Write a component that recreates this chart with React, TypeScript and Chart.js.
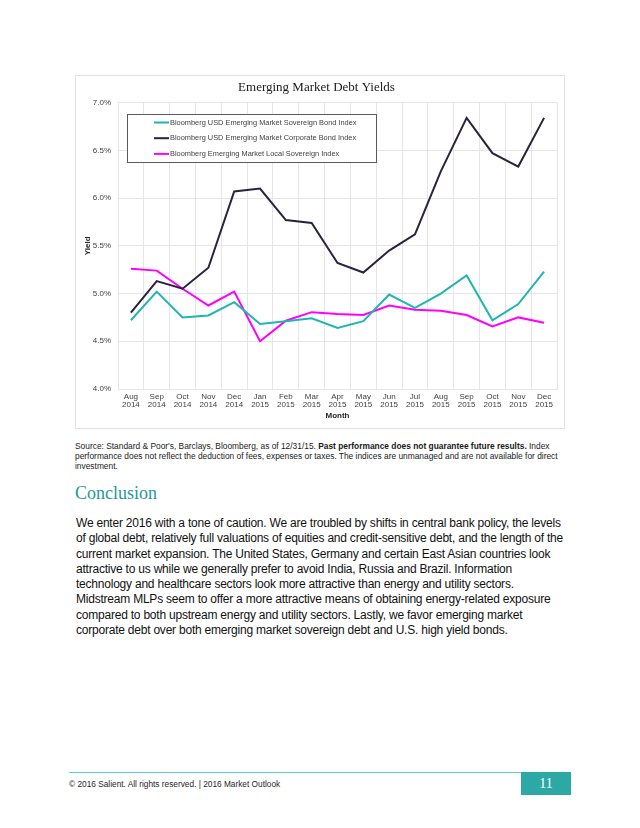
import React, { useEffect, useRef } from "react";
import { Chart, registerables } from "chart.js";

Chart.register(...registerables);

const months = ["Aug", "Sep", "Oct", "Nov", "Dec", "Jan", "Feb", "Mar", "Apr", "May", "Jun", "Jul", "Aug", "Sep", "Oct", "Nov", "Dec"];
const years = ["2014", "2014", "2014", "2014", "2014", "2015", "2015", "2015", "2015", "2015", "2015", "2015", "2015", "2015", "2015", "2015", "2015"];

const sovereign = [4.72, 5.02, 4.75, 4.77, 4.91, 4.68, 4.71, 4.74, 4.64, 4.71, 4.99, 4.85, 5.0, 5.19, 4.72, 4.89, 5.23];
const corporate = [4.8, 5.13, 5.05, 5.27, 6.07, 6.1, 5.77, 5.74, 5.32, 5.22, 5.45, 5.62, 6.28, 6.84, 6.47, 6.33, 6.84];
const local = [5.26, 5.24, 5.05, 4.875, 5.02, 4.5, 4.715, 4.805, 4.785, 4.775, 4.875, 4.83, 4.82, 4.775, 4.655, 4.75, 4.695];

const seriesNames = [
  "Bloomberg USD Emerging Market Sovereign Bond Index",
  "Bloomberg USD Emerging Market Corporate Bond Index",
  "Bloomberg Emerging Market Local Sovereign Index",
];
const seriesColors = ["#1fb5b0", "#2b2140", "#ff00ff"];

const yMin = 4.0;
const yMax = 7.0;
const yStep = 0.5;

const chartTitle = "Emerging Market Debt Yields";
const yTitle = "Yield";
const xTitle = "Month";

const sourceLines = [
  [
    { t: "Source: Standard & Poor's, Barclays, Bloomberg, as of 12/31/15. ", b: false },
    { t: "Past performance does not guarantee future results.", b: true },
    { t: " Index", b: false },
  ],
  [{ t: "performance does not reflect the deduction of fees, expenses or taxes. The indices are unmanaged and are not available for direct", b: false }],
  [{ t: "investment.", b: false }],
];

const paragraphLines = [
  "We enter 2016 with a tone of caution. We are troubled by shifts in central bank policy, the levels",
  "of global debt, relatively full valuations of equities and credit-sensitive debt, and the length of the",
  "current market expansion. The United States, Germany and certain East Asian countries look",
  "attractive to us while we generally prefer to avoid India, Russia and Brazil. Information",
  "technology and healthcare sectors look more attractive than energy and utility sectors.",
  "Midstream MLPs seem to offer a more attractive means of obtaining energy-related exposure",
  "compared to both upstream energy and utility sectors. Lastly, we favor emerging market",
  "corporate debt over both emerging market sovereign debt and U.S. high yield bonds.",
];

const SANS = "'Liberation Sans', Arial, Helvetica, sans-serif";
const SERIF = "'Liberation Serif', 'DejaVu Serif', serif";

const boxLegend = {
  id: "boxLegend",
  afterDatasetsDraw(chart: any) {
    const ctx = chart.ctx;
    const x0 = 51, y0 = 38, w = 249, h = 48;
    ctx.save();
    ctx.fillStyle = "#ffffff";
    ctx.fillRect(x0, y0, w, h);
    ctx.strokeStyle = "#5a5a5a";
    ctx.lineWidth = 1;
    ctx.strokeRect(x0 + 0.5, y0 + 0.5, w, h);
    ctx.font = `7.4px ${SANS}`;
    ctx.textBaseline = "middle";
    ctx.textAlign = "left";
    chart.data.datasets.forEach((ds: any, i: number) => {
      const y = 46.5 + i * 15.7;
      ctx.strokeStyle = ds.borderColor;
      ctx.lineWidth = 2;
      ctx.beginPath();
      ctx.moveTo(78, y);
      ctx.lineTo(93, y);
      ctx.stroke();
      ctx.fillStyle = "#404040";
      ctx.fillText(ds.label, 94, y);
    });
    ctx.restore();
  },
};

function YieldChart() {
  const ref = useRef<HTMLCanvasElement>(null);
  useEffect(() => {
    if (!ref.current) return;
    const values = [sovereign, corporate, local];
    const chart = new Chart(ref.current, {
      type: "line",
      data: {
        labels: months.map((m, i) => [m, years[i]]),
        datasets: values.map((v, i) => ({
          label: seriesNames[i],
          data: v,
          borderColor: seriesColors[i],
          backgroundColor: seriesColors[i],
          borderWidth: 2,
          pointRadius: 0,
          tension: 0,
          fill: false,
        })),
      },
      options: {
        animation: false,
        responsive: false,
        maintainAspectRatio: false,
        layout: { padding: { left: 0, right: 7, top: 0, bottom: 0 } },
        plugins: {
          legend: { display: false },
          tooltip: { enabled: false },
          title: {
            display: true,
            text: chartTitle,
            color: "#1a1a1a",
            font: { family: SERIF, size: 13, weight: "normal", lineHeight: 1.2 },
            padding: { top: 4, bottom: 7 },
          },
        },
        scales: {
          x: {
            offset: true,
            grid: { color: "#e6e6e6", drawTicks: false, offset: true },
            border: { color: "#e6e6e6" },
            ticks: {
              color: "#404040",
              font: { family: SANS, size: 8, lineHeight: 1.0 },
              padding: 4,
              maxRotation: 0,
              minRotation: 0,
              autoSkip: false,
            },
            title: {
              display: true,
              text: xTitle,
              color: "#262626",
              font: { family: SANS, size: 8, weight: "bold" },
              padding: { top: 0, bottom: 7 },
            },
            afterFit: (s: any) => {
              s.height = 39;
            },
          },
          y: {
            min: yMin,
            max: yMax,
            grid: { color: "#e6e6e6", drawTicks: false },
            border: { color: "#e6e6e6" },
            ticks: {
              stepSize: yStep,
              color: "#404040",
              font: { family: SANS, size: 8 },
              padding: 7,
              callback: (v: any) => Number(v).toFixed(1) + "%",
            },
            title: {
              display: true,
              text: yTitle,
              color: "#262626",
              font: { family: SANS, size: 8, weight: "bold" },
              padding: { top: 7, bottom: 0 },
            },
            afterFit: (s: any) => {
              s.width = 42;
            },
          },
        },
      },
      plugins: [boxLegend],
    });
    return () => chart.destroy();
  }, []);
  return <canvas ref={ref} width={488} height={352} style={{ display: "block", width: 488, height: 352 }} />;
}

export default function App() {
  return (
    <div style={{ position: "absolute", left: 0, top: 0, width: 640, height: 828, background: "#fff", overflow: "hidden" }}>
      <div style={{ position: "absolute", left: 75, top: 75, width: 490, height: 354, border: "1px solid #e3e3e3", boxSizing: "border-box" }}>
        <YieldChart />
      </div>
      <div style={{ position: "absolute", left: 75, top: 441, fontFamily: SANS, fontSize: 8.4, lineHeight: "10px", color: "#1a1a1a", whiteSpace: "nowrap" }}>
        {sourceLines.map((line, i) => (
          <div key={i}>
            {line.map((seg, j) => (
              <span key={j} style={{ fontWeight: seg.b ? "bold" : "normal" }}>{seg.t}</span>
            ))}
          </div>
        ))}
      </div>
      <div style={{ position: "absolute", left: 75, top: 483, fontFamily: SERIF, fontSize: 18, lineHeight: "20px", color: "#1f9a95", whiteSpace: "nowrap" }}>
        Conclusion
      </div>
      <div style={{ position: "absolute", left: 76, top: 516, fontFamily: SANS, fontSize: 12, letterSpacing: "-0.22px", lineHeight: "15.3px", color: "#111", whiteSpace: "nowrap" }}>
        {paragraphLines.map((l, i) => (
          <div key={i}>{l}</div>
        ))}
      </div>
      <div style={{ position: "absolute", left: 69, top: 772, width: 452, height: 1, background: "#5fd0cc" }} />
      <div style={{ position: "absolute", left: 69, top: 778, fontFamily: SANS, fontSize: 8.3, lineHeight: "12px", color: "#262626", whiteSpace: "nowrap" }}>
        © 2016 Salient. All rights reserved. | 2016 Market Outlook
      </div>
      <div style={{ position: "absolute", left: 521, top: 772, width: 50, height: 23, background: "#2ca8a5", color: "#fff", fontFamily: SERIF, fontSize: 14, lineHeight: "23px", textAlign: "center" }}>
        11
      </div>
    </div>
  );
}
